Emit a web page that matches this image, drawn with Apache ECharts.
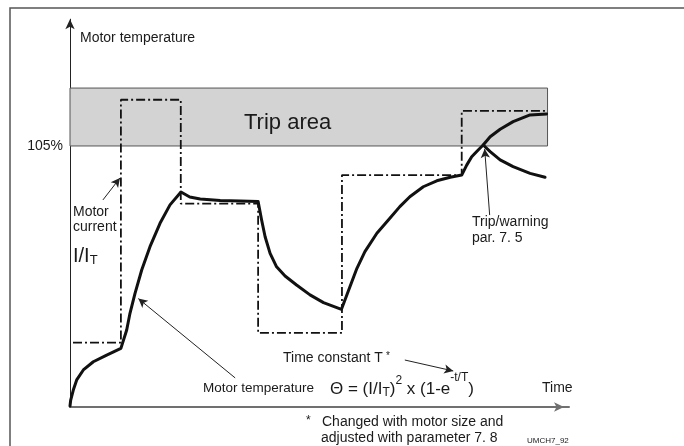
<!DOCTYPE html>
<html>
<head>
<meta charset="utf-8">
<script src="https://cdn.jsdelivr.net/npm/echarts@6/dist/echarts.min.js"></script>
<style>
  html, body { margin: 0; padding: 0; background: #fff; }
  #chart { width: 684px; height: 446px; }
</style>
</head>
<body>
<div id="chart"></div>
<script>
// time on x (0..100), temperature / current in % on y
var tempTime = [0, 0.14, 0.66, 1.34, 2.67, 4.67, 7.35, 10.2, 11.36, 12.02, 13.03, 14.37, 16.03, 18.04, 20.04, 22.24,
  24.0, 26.1, 30.1, 34.1, 37.7, 38.4, 39.1, 40.1, 41.4, 43.1, 45.4, 48.1, 50.8, 54.4,
  56.1, 57.5, 59.1, 61.5, 64.1, 66.1, 68.1, 70.8, 73.5, 76.2, 78.5, 79.5, 80.5, 81.8, 82.8,
  84.2, 86.2, 88.8, 92.2, 95.5];
var tempValue = [0.4, 2.8, 6.8, 10.9, 14.9, 18.2, 20.9, 23.6, 31.0, 37.7, 45.7, 55.1, 64.5, 73.9, 81.3, 86.5,
  84.5, 83.7, 83.1, 82.9, 82.7, 75.2, 68.5, 61.8, 56.4, 52.7, 49.1, 45.1, 42.0, 39.3,
  48.4, 55.8, 62.5, 69.9, 75.9, 80.6, 84.6, 88.6, 91.0, 92.4, 93.3, 97.3, 100.7, 103.4, 105.4,
  108.7, 111.7, 114.8, 117.5, 117.9];

// after the trip/warning point, the cooling branch
var coolTime = [82.8, 84.2, 86.2, 88.8, 92.2, 95.2];
var coolValue = [105.4, 102.7, 99.4, 96.7, 94.0, 92.4];

// motor current I/IT (dash-dot steps)
var currentTime = [0.6, 10.2, 10.2, 22.2, 22.2, 37.7, 37.7, 54.5, 54.5, 78.5, 78.5, 95.6];
var currentValue = [25.9, 25.9, 123.6, 123.6, 81.8, 81.8, 29.8, 29.8, 93.3, 93.3, 119.1, 119.1];

var tripLimit = 105;
var tripTop = 128.3;
var tripEnd = 95.7;

// arrows: [fromTime, fromValue, toTime, toValue]
var arrows = [
  [6.6, 83.3, 10.0, 92.1],
  [33.1, 11.7, 13.7, 43.6],
  [84.1, 77.2, 83.1, 103.8],
  [67.1, 18.9, 76.8, 14.5]
];

var FONT = '"Liberation Sans", Arial, Helvetica, sans-serif';
var INK = '#1a1a1a';

function zip(a, b) {
  return a.map(function (v, i) { return [v, b[i]]; });
}

function txt(x, y, s, size) {
  return {
    type: 'text', x: x, y: y, silent: true, z: 100,
    style: {
      text: s, fontSize: size, fontFamily: FONT, fill: INK,
      textVerticalAlign: 'middle', verticalAlign: 'middle'
    }
  };
}

// pieces of text set one after another (for sub/superscripts)
var measureCtx = document.createElement('canvas').getContext('2d');
function chain(x, parts) {
  return parts.map(function (p) {
    var el = txt(x, p[2], p[0], p[1]);
    measureCtx.font = p[1] + 'px ' + FONT;
    x += measureCtx.measureText(p[0]).width;
    return el;
  });
}

var chart = echarts.init(document.getElementById('chart'), null, { renderer: 'canvas' });

var option = {
  animation: false,
  backgroundColor: '#fff',
  grid: { left: 70, right: 115, top: 19.2, bottom: 39, outerBoundsMode: 'none' },
  xAxis: {
    type: 'value', min: 0, max: 100,
    splitLine: { show: false },
    axisTick: { show: false },
    axisLabel: { show: false },
    axisLine: {
      onZero: false,
      lineStyle: { color: '#707070', width: 2 },
      symbol: ['none', 'arrow'],
      symbolSize: [7, 10],
      symbolOffset: [0, -5]
    }
  },
  yAxis: {
    type: 'value', min: 0, max: 156,
    splitLine: { show: false },
    axisTick: { show: false },
    axisLabel: {
      customValues: [tripLimit],
      formatter: '{value}%',
      fontSize: 14, fontFamily: FONT, color: INK, margin: 7
    },
    axisLine: {
      onZero: false,
      lineStyle: { color: '#222', width: 1 },
      symbol: ['none', 'arrow'],
      symbolSize: [7, 10]
    }
  },
  series: [
    {
      name: 'current',
      type: 'line',
      data: zip(currentTime, currentValue),
      showSymbol: false,
      silent: true,
      lineStyle: { color: '#111', width: 1.8, type: [9, 3, 2, 3] },
      markArea: {
        silent: true,
        itemStyle: { color: '#d3d3d3', borderColor: '#555', borderWidth: 1 },
        label: { show: false },
        data: [[{ xAxis: 0, yAxis: tripLimit }, { xAxis: tripEnd, yAxis: tripTop }]]
      },
      markLine: {
        silent: true,
        symbol: ['none', 'arrow'],
        symbolSize: [7, 9],
        label: { show: false },
        lineStyle: { color: '#222', width: 1, type: 'solid' },
        data: arrows.map(function (a) {
          return [{ coord: [a[0], a[1]] }, { coord: [a[2], a[3]] }];
        })
      },
      z: 3
    },
    {
      name: 'temperature',
      type: 'line',
      data: zip(tempTime, tempValue),
      showSymbol: false,
      silent: true,
      lineStyle: { color: '#111', width: 3, cap: 'round', join: 'round' },
      z: 4
    },
    {
      name: 'cooling',
      type: 'line',
      data: zip(coolTime, coolValue),
      showSymbol: false,
      silent: true,
      lineStyle: { color: '#111', width: 3, cap: 'round', join: 'round' },
      z: 4
    }
  ],
  graphic: [
    {
      type: 'rect', silent: true, z: 0,
      shape: { x: 10, y: 8, width: 720, height: 500 },
      style: { fill: 'none', stroke: '#555', lineWidth: 1.5 }
    },
    txt(80, 38, 'Motor temperature', 14),
    txt(244, 123, 'Trip area', 22),
    txt(73, 212.5, 'Motor', 14),
    txt(73, 227.5, 'current', 14),
    txt(472, 222, 'Trip/warning', 14),
    txt(472, 238, 'par. 7. 5', 14),
    txt(283, 358, 'Time constant T', 14),
    txt(386, 356, '*', 10),
    txt(203, 388, 'Motor temperature', 13.5),
    txt(542, 388, 'Time', 14),
    txt(306, 421, '*', 12),
    txt(322, 422.5, 'Changed with motor size and', 14),
    txt(321, 438.5, 'adjusted with parameter 7. 8', 14),
    txt(527, 440.5, 'UMCH7_92', 8)
  ].concat(
    chain(73, [['I/I', 20, 256], ['T', 13, 260]]),
    chain(330, [
      ['\u0398 = (I/I', 17, 389],
      ['T', 12, 393],
      [')', 17, 389],
      ['2', 12, 381],
      [' x (1-e', 17, 389],
      ['-t/T', 12, 378],
      [')', 17, 389]
    ])
  )
};

chart.setOption(option);
</script>
</body>
</html>
